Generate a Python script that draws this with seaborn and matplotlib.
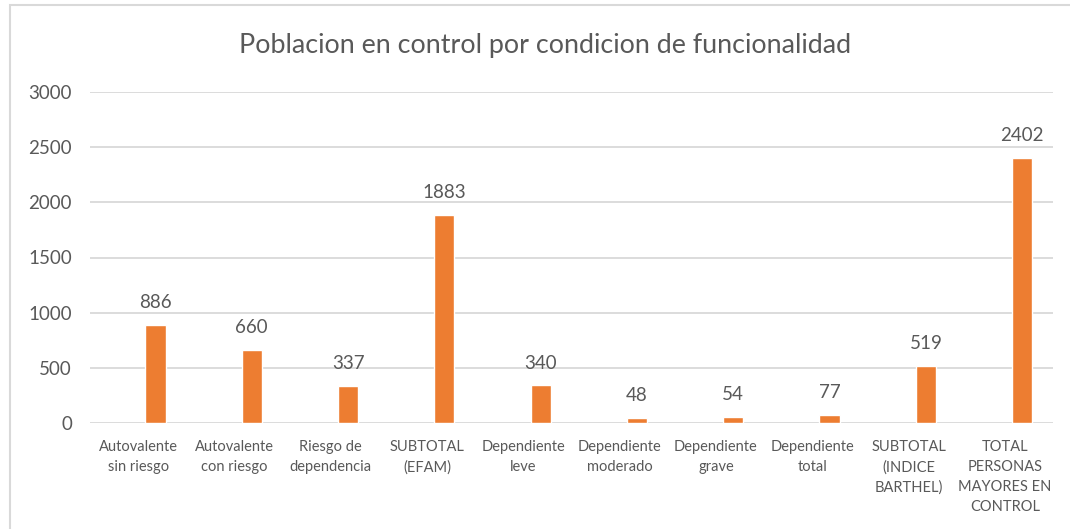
import numpy as np
import pandas as pd
import seaborn as sns
import matplotlib.pyplot as plt
from matplotlib.patches import Rectangle

categorias = [
    'Autovalente\nsin riesgo',
    'Autovalente\ncon riesgo',
    'Riesgo de\ndependencia',
    'SUBTOTAL\n(EFAM)',
    'Dependiente\nleve',
    'Dependiente\nmoderado',
    'Dependiente\ngrave',
    'Dependiente\ntotal',
    'SUBTOTAL\n(INDICE\nBARTHEL)',
    'TOTAL\nPERSONAS\nMAYORES EN\nCONTROL',
]
valores = [886, 660, 337, 1883, 340, 48, 54, 77, 519, 2402]
titulo = 'Poblacion en control por condicion de funcionalidad'

sns.set_style('white')
plt.rcParams['font.family'] = ['Lato', 'DejaVu Sans']

gris = '#595959'
naranja = '#ED7D31'

idx = np.arange(len(valores))
df = pd.DataFrame({'pos': idx + 0.18, 'valor': valores})

fig = plt.figure(figsize=(10.70, 5.29), dpi=100)
# marco del grafico (como en Excel)
fig.patches.append(Rectangle((10 / 1070, -0.1), 1.2, (529 - 5) / 529 + 0.1,
                             transform=fig.transFigure, fill=False,
                             edgecolor='#d9d9d9', linewidth=1.5))
ax = fig.add_axes([90 / 1070, 106 / 529, (1053 - 90) / 1070, (423 - 92) / 529])

sns.barplot(data=df, x='pos', y='valor', native_scale=True, width=0.21,
            color=naranja, saturation=1, ax=ax)

ax.set_ylim(0, 3000)
ax.set_xlim(-0.5, 9.5)
ax.set_yticks(range(0, 3001, 500))
ax.set_xticks(idx)
ax.set_xticklabels(categorias, fontsize=10.5, color=gris, linespacing=1.55)
ax.tick_params(axis='y', labelsize=13.5, colors=gris, length=0, pad=13)
ax.tick_params(axis='x', length=0, pad=12)
ax.yaxis.grid(True, color='#d9d9d9', linewidth=1.3)
ax.set_axisbelow(True)
for s in ax.spines.values():
    s.set_visible(False)
ax.set_xlabel('')
ax.set_ylabel('')

ax.bar_label(ax.containers[0], fmt='%d', padding=10, fontsize=13.5, color=gris)

fig.text(545 / 1070, 1 - 45 / 529, titulo, ha='center', va='center',
         fontsize=19.4, color=gris)

fig.savefig('out.png', dpi=100)
